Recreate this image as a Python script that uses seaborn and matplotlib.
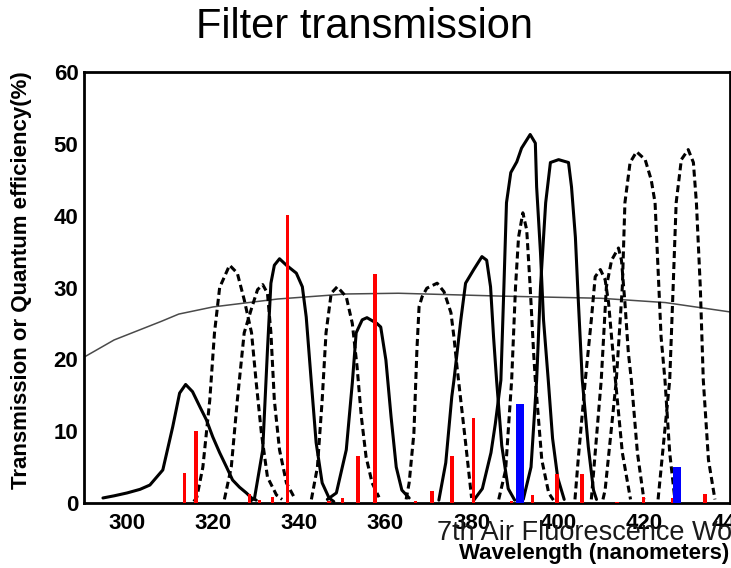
import numpy as np
import pandas as pd
import matplotlib
matplotlib.use("Agg")
import matplotlib.pyplot as plt
import seaborn as sns

# ---------------- data ----------------
# solid-line filters
a_wl = [294.4, 297, 300, 303, 305.3, 308.3, 310.6, 312.2, 313.6, 315.2, 316.9, 318.4, 319.9, 321.5, 323.1, 324.5, 326.1, 327.7, 328.9, 330]
a_val = [0.7, 1.0, 1.4, 1.9, 2.5, 4.6, 10.6, 15.3, 16.5, 15.5, 13.4, 11.6, 9.2, 7.0, 5.0, 3.2, 2.2, 1.4, 0.7, 0.4]
b_wl = [328.5, 329.6, 331.5, 332.6, 333.4, 334.2, 335.4, 337.0, 339.3, 340.7, 341.6, 342.8, 343.9, 345.3, 346.9, 348.0]
b_val = [0.2, 0.7, 7.4, 21.3, 30.6, 33.1, 34.0, 33.1, 32.0, 30.1, 25.9, 16.7, 8.4, 2.8, 0.7, 0.2]
c_wl = [346.5, 348.6, 350.9, 352.3, 353.2, 354.6, 355.7, 358.0, 358.9, 360.1, 361.3, 362.5, 363.8, 365.5]
c_val = [0.5, 1.4, 7.4, 16.7, 23.7, 25.5, 25.8, 25.0, 24.5, 19.9, 12.0, 5.0, 1.8, 0.7]
d_wl = [372.4, 374.0, 375.4, 375.9, 377.5, 378.6, 380.5, 382.4, 383.5, 384.4, 385.1, 385.8, 387.0, 388.5, 390.0]
d_val = [0.4, 5.6, 14.8, 17.1, 25.5, 30.6, 32.5, 34.3, 33.8, 30.1, 23.1, 17.1, 8.0, 2.0, 0.4]
e_wl = [380.4, 382.5, 384.5, 385.5, 386.8, 387.5, 388.1, 389.1, 390.5, 391.6, 393.6, 394.8, 395.1, 396.0, 396.7, 397.8, 398.8, 400.0, 401.5]
e_val = [0.3, 2.0, 7.0, 11.0, 17.1, 30.1, 41.8, 46.0, 47.5, 49.4, 51.3, 50.1, 44.0, 34.8, 25.5, 17.1, 9.0, 3.5, 0.5]
f_wl = [392.0, 393.8, 395.1, 396.0, 397.2, 398.3, 400.2, 402.5, 403.2, 404.1, 404.8, 405.7, 407.1, 408.3, 409.0]
f_val = [0.5, 5.0, 17.1, 30.1, 41.8, 47.4, 47.8, 47.4, 44.0, 37.0, 27.9, 17.1, 7.8, 1.8, 0.5]

# dashed-line filters
g_wl = [315.5, 316.2, 317.6, 319.2, 320.3, 321.5, 323.8, 325.6, 327.2, 328.9, 330.0, 331.2, 332.6, 334.7, 336.0]
g_val = [0.2, 0.8, 5.0, 14.3, 23.7, 30.0, 33.1, 32.0, 28.3, 23.7, 16.7, 9.7, 3.6, 1.1, 0.5]
h_wl = [322.6, 324.2, 325.6, 327.2, 328.9, 330.3, 331.5, 332.6, 333.4, 334.2, 335.4, 337.0, 338.8]
h_val = [0.5, 5.0, 14.3, 23.7, 27.1, 29.7, 30.4, 29.2, 23.7, 14.3, 7.4, 2.8, 0.8]
i_wl = [342.8, 344.2, 345.3, 346.2, 347.4, 348.8, 350.9, 352.3, 353.4, 354.4, 355.5, 356.9, 358.5]
i_val = [0.5, 5.0, 14.3, 23.7, 29.2, 30.1, 28.7, 25.0, 19.0, 12.0, 6.4, 2.8, 0.8]
j_wl = [364.8, 365.5, 366.6, 367.3, 367.8, 368.5, 369.6, 372.0, 373.6, 375.2, 375.9, 376.6, 378.6, 380.0]
j_val = [0.5, 2.8, 9.7, 21.3, 27.3, 28.7, 29.9, 30.6, 29.4, 26.5, 23.1, 19.0, 8.4, 0.7]
k_wl = [386.3, 387.9, 389.3, 390.2, 390.9, 391.9, 392.8, 393.6, 394.4, 394.8, 396.3, 397.9, 399.0]
k_val = [0.5, 4.6, 17.1, 30.1, 37.0, 40.4, 38.0, 30.1, 20.9, 17.1, 6.0, 1.4, 0.4]
l_wl = [404.0, 404.8, 406.4, 407.8, 408.7, 409.9, 411.0, 411.8, 412.5, 413.4, 415.0, 416.9]
l_val = [0.5, 6.4, 17.1, 25.5, 31.5, 32.5, 31.1, 27.9, 23.1, 17.1, 7.0, 0.5]
m_wl = [407.8, 410.1, 411.3, 412.5, 414.1, 414.8, 415.6, 416.4, 417.1, 418.5, 420.0]
m_val = [0.5, 17.1, 30.1, 33.8, 35.5, 33.8, 27.9, 20.9, 17.1, 7.0, 0.5]
n_wl = [410.5, 411.0, 413.6, 415.0, 415.6, 416.8, 418.3, 420.3, 421.7, 422.6, 423.3, 424.0, 424.9, 426.0, 427.2]
n_val = [0.5, 1.8, 17.1, 30.1, 41.8, 47.4, 48.9, 47.8, 45.0, 41.8, 32.5, 23.1, 17.1, 7.0, 0.5]
o_wl = [423.3, 426.0, 426.8, 427.5, 428.7, 430.3, 431.5, 432.2, 433.1, 433.8, 435.0, 436.5]
o_val = [0.5, 17.1, 30.1, 41.8, 47.8, 49.2, 47.4, 41.8, 30.1, 17.1, 6.0, 0.5]

# photomultiplier quantum efficiency (thin gray)
qe_wl = [290, 297, 308, 312, 320, 335, 351, 363, 387, 410, 425, 440]
qe_val = [20.3, 22.7, 25.3, 26.3, 27.3, 28.4, 29.1, 29.2, 28.8, 28.5, 27.9, 26.6]

# fluorescence lines
red_wl = [313.4, 316.0, 328.4, 330.7, 333.8, 337.2, 346.9, 350.0, 353.6, 357.6, 367.0, 370.8,
          375.4, 380.5, 389.3, 394.2, 399.8, 405.6, 413.8, 419.9, 426.8, 434.2]
red_val = [4.2, 10.0, 1.3, 0.4, 0.9, 40.1, 0.3, 0.7, 6.5, 31.9, 0.3, 1.7,
           6.5, 11.8, 0.3, 1.1, 4.0, 4.0, 0.2, 0.9, 0.7, 1.2]
blue_wl = [391.2, 427.8]
blue_val = [13.8, 5.0]

solid_curves = {"a": (a_wl, a_val), "b": (b_wl, b_val), "c": (c_wl, c_val),
                "d": (d_wl, d_val), "e": (e_wl, e_val), "f": (f_wl, f_val)}
dashed_curves = {"g": (g_wl, g_val), "h": (h_wl, h_val), "i": (i_wl, i_val),
                 "j": (j_wl, j_val), "k": (k_wl, k_val), "l": (l_wl, l_val),
                 "m": (m_wl, m_val), "n": (n_wl, n_val), "o": (o_wl, o_val)}

rows = []
for name, (w, v) in solid_curves.items():
    rows += [dict(wl=x, val=y, curve=name, kind="solid") for x, y in zip(w, v)]
for name, (w, v) in dashed_curves.items():
    rows += [dict(wl=x, val=y, curve=name, kind="dashed") for x, y in zip(w, v)]
df = pd.DataFrame(rows)
qe_df = pd.DataFrame(dict(wl=qe_wl, val=qe_val))

# ---------------- style ----------------
sns.set_style("white")
plt.rcParams["font.family"] = ["Liberation Sans", "DejaVu Sans"]
plt.rcParams["text.color"] = "black"
plt.rcParams["axes.labelcolor"] = "black"
plt.rcParams["xtick.color"] = "black"
plt.rcParams["ytick.color"] = "black"

W, H = 731, 568
fig = plt.figure(figsize=(W / 100, H / 100), dpi=100)
ax = fig.add_axes([84 / W, 65 / H, (730 - 84) / W, (503 - 72) / H])

sns.lineplot(data=qe_df, x="wl", y="val", ax=ax, color="#4a4a4a", lw=1.1,
             estimator=None, sort=False, legend=False)
sns.lineplot(data=df, x="wl", y="val", units="curve", style="kind",
             dashes={"solid": "", "dashed": (2.3, 1.3)}, estimator=None,
             sort=False, color="black", lw=2.2, ax=ax, legend=False)

ax.bar(red_wl, red_val, width=0.8, color="#ff0000", linewidth=0, zorder=5)
ax.bar(blue_wl, blue_val, width=1.85, color="#0000ff", linewidth=0, zorder=5)

ax.set_xlim(290, 440)
ax.set_ylim(0, 60)
ax.set_xticks(np.arange(300, 441, 20))
ax.set_xticks(np.arange(290, 441, 5), minor=True)
ax.set_yticks(np.arange(0, 61, 10))
ax.set_yticks(np.arange(0, 61, 2), minor=True)
ax.tick_params(axis="both", which="major", direction="in", length=13, width=2,
               color="black", labelcolor="black", labelsize=16)
ax.tick_params(axis="both", which="minor", direction="in", length=7, width=1.6,
               color="black")
ax.tick_params(axis="x", which="major", pad=7)
ax.tick_params(axis="y", which="major", pad=4)
for lab in ax.get_xticklabels() + ax.get_yticklabels():
    lab.set_fontweight("bold")
for sp in ax.spines.values():
    sp.set_visible(True)
    sp.set_linewidth(2)
    sp.set_color("black")
ax.set_xlabel("")
ax.set_ylabel("")

fig.text(365 / W, 1 - 38 / H, "Filter transmission", ha="center", va="baseline",
         fontsize=30, color="black")
fig.text(22 / W, 1 - 280 / H, "Transmission or Quantum efficiency(%)",
         rotation=90, ha="center", va="center", fontsize=16, fontweight="bold",
         color="black")
fig.text(437 / W, 1 - 540 / H, "7th Air Fluorescence Workshop", ha="left",
         va="baseline", fontsize=19.5, color="#1a1a1a")
fig.text(729 / W, 1 - 559 / H, "Wavelength (nanometers)", ha="right",
         va="baseline", fontsize=16, fontweight="bold", color="black")

fig.savefig("out.png", dpi=100)
